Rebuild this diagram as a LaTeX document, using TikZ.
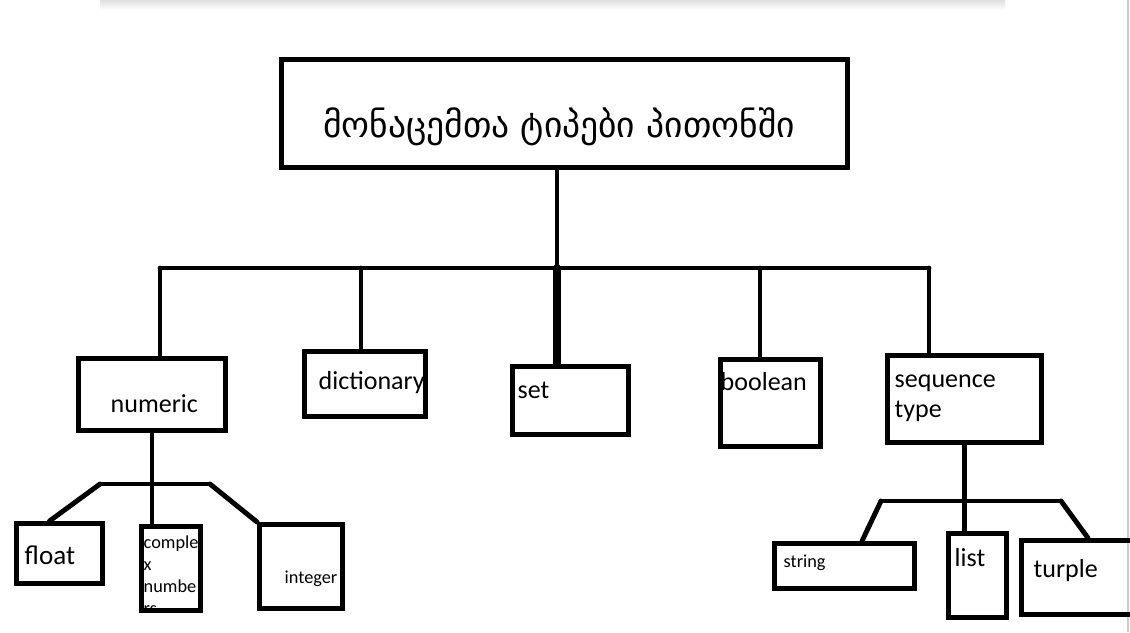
\documentclass[tikz,border=0pt]{standalone}
\usepackage{fontspec}
\setmainfont{Carlito}
\newfontfamily\geofont{DejaVu Sans}
\usetikzlibrary{calc}
\tikzstyle{Box} = [draw, line width=1.4pt, rectangle, inner sep=0pt]
\tikzstyle{Txt} = [inner sep=0pt, anchor=base west, align=left,
	font=\fontsize{7.4}{8.5}\selectfont]
\tikzstyle{SmallTxt} = [inner sep=0pt, anchor=base west, align=left,
	font=\fontsize{5.2}{6.2}\selectfont]
\tikzstyle{Line} = [line width=1.4pt, line cap=round]
\begin{document}
\begin{tikzpicture}[x=0.01cm, y=-0.01cm]
	\clip (0,0) rectangle (1130,632);
	\useasboundingbox (0,0) rectangle (1130,632);
	%page edges:
		\shade[top color=gray!25, bottom color=white] (100,0) rectangle (1005,10);
		\draw[gray!40, line width=0.4pt] (1128,0) -- (1128,632);
	%nodes:
		\node [Box, minimum width=5.66cm, minimum height=1.08cm] (root) at (564.5,113.5) {};
		\node [Box, minimum width=1.47cm, minimum height=0.72cm] (num) at (152,394.5) {};
		\node [Box, minimum width=1.21cm, minimum height=0.65cm] (dict) at (365,384) {};
		\node [Box, minimum width=1.16cm, minimum height=0.68cm] (set) at (570.5,400.5) {};
		\node [Box, minimum width=1.00cm, minimum height=0.87cm] (bool) at (770.5,403) {};
		\node [Box, minimum width=1.54cm, minimum height=0.87cm] (seq) at (964.5,399) {};
		\node [Box, minimum width=0.86cm, minimum height=0.60cm] (fl) at (59.5,553.5) {};
		\node [Box, minimum width=0.59cm, minimum height=0.84cm] (cx) at (171,568.5) {};
		\node [Box, minimum width=0.83cm, minimum height=0.84cm] (it) at (301,566.5) {};
		\node [Box, minimum width=1.40cm, minimum height=0.45cm] (str) at (844.5,566) {};
		\node [Box, minimum width=0.58cm, minimum height=0.84cm] (li) at (977.5,575.5) {};
		\node [Box, minimum width=1.16cm, minimum height=0.74cm] (tu) at (1079.5,577.5) {};
	%texts:
		\node [inner sep=0pt, anchor=base, font=\geofont\fontsize{10.1}{12}\selectfont] (root-t) at (559,137) {მონაცემთა ტიპები პითონში};
		\node [Txt] (num-t) at (110,412) {numeric};
		\node [Txt] (dict-t) at (318,389) {dictionary};
		\node [Txt] (set-t) at (517,398) {set};
		\node [Txt] (bool-t) at (720,390) {boolean};
		\node [Txt] (seq-t) at (894,417) {sequence\\type};
		\node [Txt, font=\fontsize{7.7}{9}\selectfont] (fl-t) at (24,564) {float};
		\begin{scope}
			\clip ([shift={(0.02cm,-0.02cm)}]cx.north west) rectangle ([shift={(-0.02cm,0.02cm)}]cx.south east);
			\node [SmallTxt] (cx-t) at (143,614) {comple\\x\\numbe\\rs};
		\end{scope}
		\node [SmallTxt] (it-t) at (284,583) {integer};
		\node [SmallTxt] (str-t) at (783,567) {string};
		\node [Txt] (li-t) at (954,566) {list};
		\node [Txt] (tu-t) at (1033,577) {turple};
	%edges:
		\coordinate (hub) at (557,268);
		\coordinate (barL) at (160,268);
		\coordinate (barR) at (929,268);
		\draw[Line] (root.south -| hub) -- (hub);
		\draw[Line] (barL) -- (barR);
		\draw[Line] (barL) -- (barL |- num.north);
		\draw[Line] (361,268) -- (361,268 |- dict.north);
		\draw[Line, line width=2.2pt] (hub) -- (hub |- set.north);
		\draw[Line] (760,268) -- (760,268 |- bool.north);
		\draw[Line] (barR) -- (barR |- seq.north);
		% numeric
		\coordinate (nL) at (100,484);
		\coordinate (nR) at (210,484);
		\draw[Line] (num.south) -- (num.south |- cx.north);
		\draw[Line] (nL) -- (nR);
		\draw[Line] (nL) -- ([xshift=-0.1cm]fl.north);
		\draw[Line] (nR) -- (it.north west);
		% sequence type
		\coordinate (sL) at (881,501);
		\coordinate (sR) at (1061,501);
		\draw[Line] (seq.south) -- (seq.south |- li.north);
		\draw[Line] (sL) -- (sR);
		\draw[Line] (sL) -- ([xshift=0.175cm]str.north);
		\draw[Line] (sR) -- ([xshift=0.085cm]tu.north);
\end{tikzpicture}
\end{document}
